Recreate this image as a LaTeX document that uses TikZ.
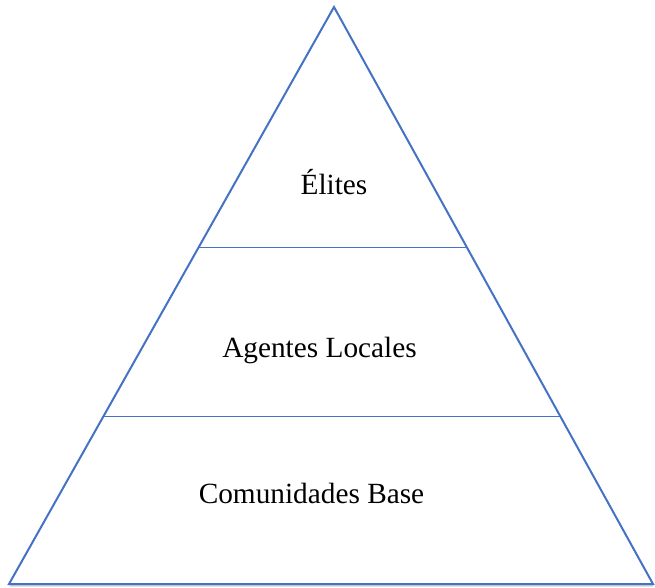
\documentclass[tikz,border=0pt]{standalone}
\usepackage{fontspec}
\setmainfont{Liberation Serif}
\usepackage{xcolor}
\usetikzlibrary{calc,shadows}
\definecolor{pyrblue}{RGB}{68,114,196}

\tikzset{
  level/.style={font=\fontsize{29.3}{34}\selectfont, inner sep=0pt},
  divide/.style={draw=pyrblue, line width=0.9pt}
}

\begin{document}
\begin{tikzpicture}[x=1pt,y=-1pt]
\useasboundingbox (0,0) rectangle (655,588);

\coordinate (apex) at (334,7);
\coordinate (bl) at (9,584);
\coordinate (br) at (653,584);

% outline
\draw [pyrblue, line width=2pt, line join=miter, fill=white,
       drop shadow={shadow xshift=0.5pt, shadow yshift=-2.5pt, fill=black!35}]
  (apex) -- (br) -- (bl) -- cycle;

% levels
\draw [divide] ($(apex)!0.4168!(bl)$) -- ($(apex)!0.4168!(br)$);
\draw [divide] ($(apex)!0.709!(bl)$) -- ($(apex)!0.709!(br)$);

\node [level] (elites) at (334,182) {Élites};
\node [level] (agentes) at (319.5,350) {Agentes Locales};
\node [level] (base) at (311.5,493) {Comunidades Base};

\end{tikzpicture}
\end{document}
